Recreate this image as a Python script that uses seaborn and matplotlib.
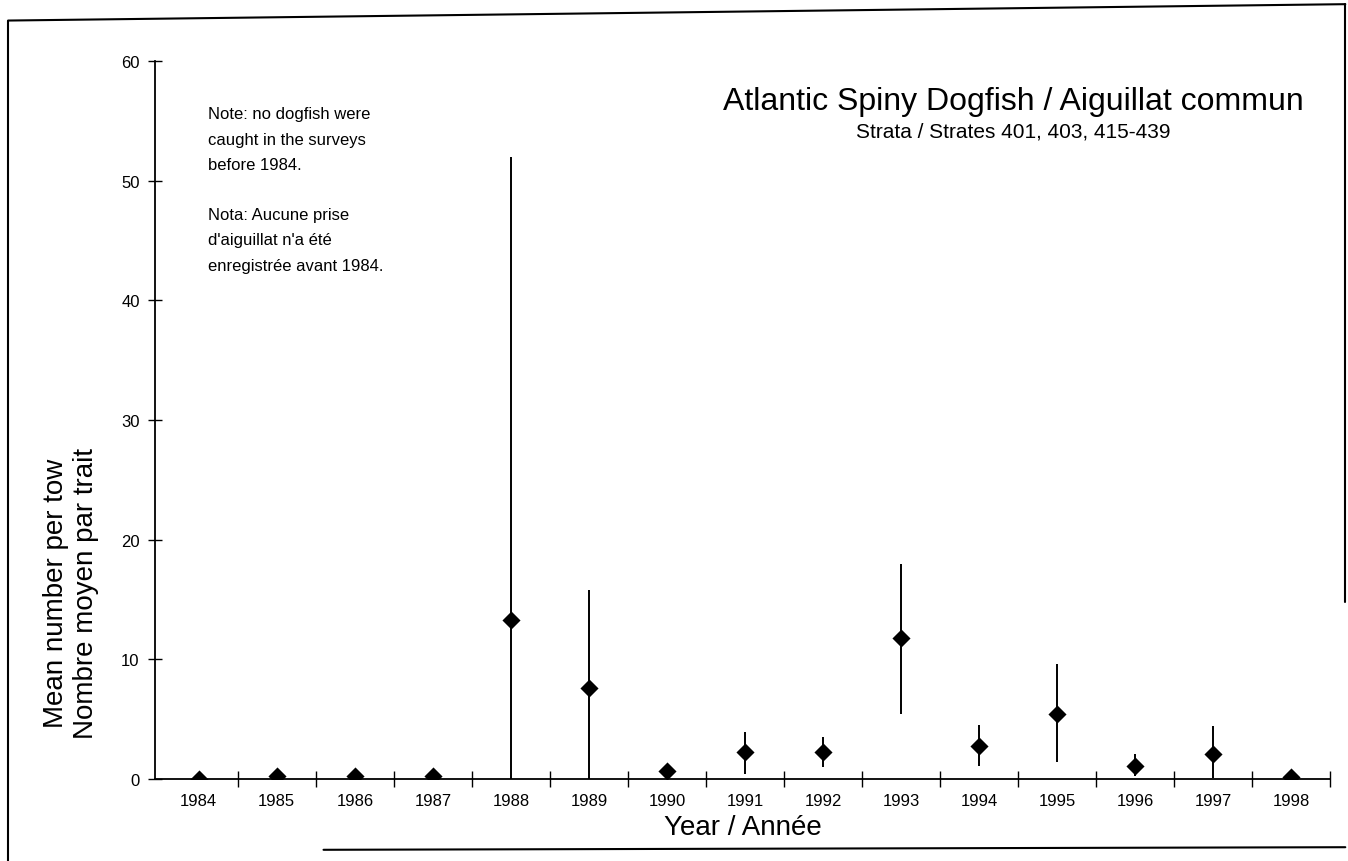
import matplotlib
matplotlib.use("Agg")
import matplotlib.pyplot as plt
import matplotlib.lines as mlines
import numpy as np
import pandas as pd
import seaborn as sns

# values
years = [1984, 1985, 1986, 1987, 1988, 1989, 1990, 1991,
         1992, 1993, 1994, 1995, 1996, 1997, 1998]
mean_per_tow = [0.0, 0.3, 0.3, 0.25, 13.3, 7.6, 0.7, 2.3,
                2.3, 11.8, 2.8, 5.4, 1.1, 2.1, 0.2]
lower_ci = [0.0, 0.3, 0.3, 0.25, 0.0, 0.0, 0.7, 0.4,
            1.0, 5.4, 1.1, 1.4, 0.3, 0.1, 0.2]
upper_ci = [0.0, 0.3, 0.3, 0.25, 52.0, 15.8, 0.7, 3.9,
            3.5, 18.0, 4.5, 9.6, 2.1, 4.4, 0.2]
y_ticks = [0, 10, 20, 30, 40, 50, 60]

df = pd.DataFrame({"year": years, "mean": mean_per_tow,
                   "lo": lower_ci, "hi": upper_ci})
df["pos"] = np.arange(len(df))

sns.set_theme(style="white")
plt.rcParams["font.family"] = ["Liberation Sans", "DejaVu Sans"]
plt.rcParams["text.color"] = "black"
plt.rcParams["axes.labelcolor"] = "black"
plt.rcParams["xtick.color"] = "black"
plt.rcParams["ytick.color"] = "black"

fig = plt.figure(figsize=(13.48, 8.62), dpi=100)
ax = fig.add_axes([0.115, 0.095, 0.872, 0.833])

# error bars
ax.vlines(df["pos"], df["lo"], df["hi"], color="black", linewidth=1.4, zorder=2)
sns.scatterplot(data=df, x="pos", y="mean", marker="D", s=85, color="black",
                edgecolor="black", linewidth=0, zorder=3, ax=ax, legend=False)

ax.set_xlim(-0.56, 14.5)
ax.set_ylim(0, 60)
ax.set_yticks(y_ticks)
ax.set_yticklabels([str(v) for v in y_ticks], fontsize=12)
ax.set_xticks(df["pos"])
ax.set_xticklabels([str(y) for y in years], fontsize=12)
ax.set_xticks(np.arange(0.5, 15, 1.0), minor=True)
ax.tick_params(axis="x", which="major", length=0, pad=10)
ax.tick_params(axis="x", which="minor", direction="inout", length=12,
               width=1, color="black", bottom=True)
ax.tick_params(axis="y", direction="inout", length=10, width=1,
               color="black", left=True, pad=6)

for s in ["top", "right"]:
    ax.spines[s].set_visible(False)
for s in ["left", "bottom"]:
    ax.spines[s].set_color("black")
    ax.spines[s].set_linewidth(1.3)

ax.set_xlabel("Year / Année", fontsize=20, labelpad=4)
ax.set_ylabel("Mean number per tow\nNombre moyen par trait", fontsize=20)
ax.yaxis.set_label_coords(-0.048, 0.26)

ax.text(0.73, 0.945, "Atlantic Spiny Dogfish / Aiguillat commun",
        transform=ax.transAxes, ha="center", va="center", fontsize=23)
ax.text(0.73, 0.903, "Strata / Strates 401, 403, 415-439",
        transform=ax.transAxes, ha="center", va="center", fontsize=15)

note = ("Note: no dogfish were\ncaught in the surveys\nbefore 1984.\n\n"
        "Nota: Aucune prise\nd'aiguillat n'a été\nenregistrée avant 1984.")
ax.text(0.045, 0.937, note, transform=ax.transAxes, ha="left", va="top",
        fontsize=12, linespacing=1.85)

# page frame around the figure
frame_kw = dict(color="black", linewidth=1.5, transform=fig.transFigure)
fig.add_artist(mlines.Line2D([0.006, 0.998], [0.975, 0.994], **frame_kw))
fig.add_artist(mlines.Line2D([0.006, 0.006], [0.975, 0.0], **frame_kw))
fig.add_artist(mlines.Line2D([0.998, 0.998], [0.994, 0.3], **frame_kw))
fig.add_artist(mlines.Line2D([0.24, 0.998], [0.013, 0.016], **frame_kw))

fig.savefig("out.png", dpi=100, facecolor="white")
